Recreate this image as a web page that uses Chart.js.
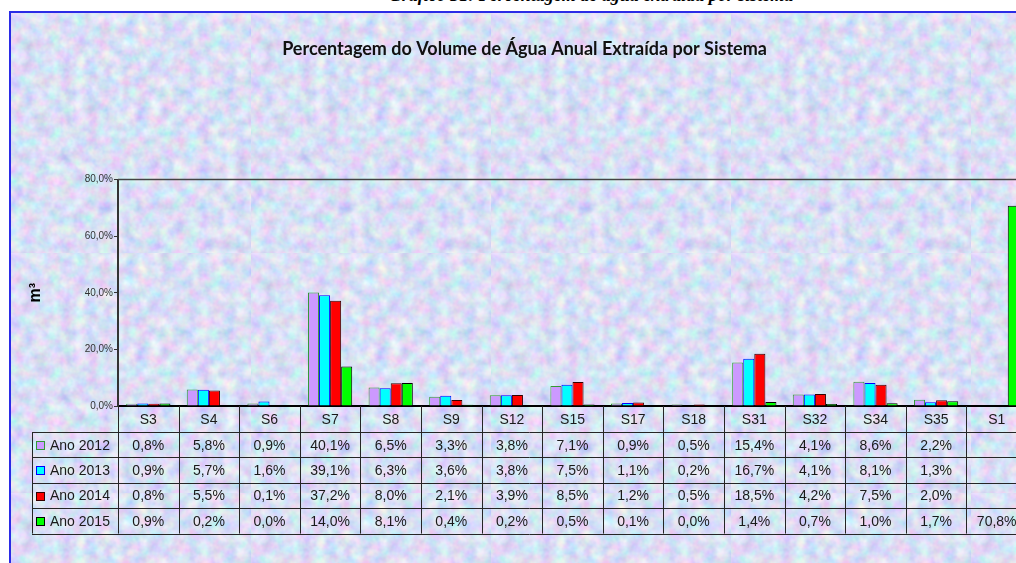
<!DOCTYPE html>
<html>
<head>
<meta charset="utf-8">
<script src="https://cdn.jsdelivr.net/npm/chart.js@4.4.1/dist/chart.umd.min.js"></script>
<style>
body{margin:0;width:1016px;height:563px;overflow:hidden;background:#fff;position:relative}
#cap{position:absolute;left:0;width:1182px;top:-14px;text-align:center;font:italic bold 18px "Liberation Serif";line-height:18px;white-space:nowrap;color:#000}
#frame{position:absolute;left:9px;top:11px;width:1100px;height:600px;border-top:2px solid #2b2be6;border-left:2px solid #2b2be6;
background-color:#c8d2f2;
background-image:url("data:image/svg+xml;utf8,<svg xmlns='http://www.w3.org/2000/svg' width='240' height='240'><filter id='n'><feTurbulence type='fractalNoise' baseFrequency='0.08' numOctaves='3' seed='7' stitchTiles='stitch'/><feColorMatrix values='0.7 0 0 0 0.35  0 0.6 0 0 0.44  0 0 0.3 0 0.76  0 0 0 0 1'/></filter><rect width='240' height='240' filter='url(%23n)'/></svg>")}
#c{position:absolute;left:0;top:0}
</style>
</head>
<body>
<div id="cap">Gráfico 31: Percentagem de água extraída por sistema</div>
<div id="frame"></div>
<canvas id="c" width="1040" height="563"></canvas>
<script>
var categories = ['S3','S4','S6','S7','S8','S9','S12','S15','S17','S18','S31','S32','S34','S35','S1'];
var seriesNames = ['Ano 2012','Ano 2013','Ano 2014','Ano 2015'];
var ano2012 = [0.8,5.8,0.9,40.1,6.5,3.3,3.8,7.1,0.9,0.5,15.4,4.1,8.6,2.2,null];
var ano2013 = [0.9,5.7,1.6,39.1,6.3,3.6,3.8,7.5,1.1,0.2,16.7,4.1,8.1,1.3,null];
var ano2014 = [0.8,5.5,0.1,37.2,8.0,2.1,3.9,8.5,1.2,0.5,18.5,4.2,7.5,2.0,null];
var ano2015 = [0.9,0.2,0.0,14.0,8.1,0.4,0.2,0.5,0.1,0.0,1.4,0.7,1.0,1.7,70.8];
var yTicks = [0,20,40,60,80];

var fills = ['#cc99ff','#00ffff','#ff0000','#00ff00'];
var borders = ['#339933','#0000ff','#330000','#000000'];
var allSeries = [ano2012,ano2013,ano2014,ano2015];

function pct(v){
	return v.toFixed(1).replace('.',',')+'%';
}

// data table under the plot + plot frame
var tablePlugin = {
	id:'dataTable',
	afterDraw:function(chart){
		var ctx = chart.ctx;
		var area = chart.chartArea;
		var xs = chart.scales.x;
		var colW = (area.right-area.left)/categories.length;
		var top = area.bottom;
		var headH = 26, rowH = 25.4;
		var legLeft = 32;
		var bottom = top+headH+rowH*4;
		ctx.save();
		// plot frame top/right
		ctx.strokeStyle = '#444';
		ctx.lineWidth = 1.5;
		ctx.beginPath();
		ctx.moveTo(area.left,area.top);
		ctx.lineTo(area.right,area.top);
		ctx.lineTo(area.right,area.bottom);
		ctx.stroke();

		ctx.strokeStyle = '#262626';
		ctx.lineWidth = 1;
		ctx.beginPath();
		for(var i=0;i<=categories.length;i++){
			var x = Math.round(area.left+i*colW)+0.5;
			ctx.moveTo(x,top);
			ctx.lineTo(x,bottom);
		}
		ctx.moveTo(legLeft+0.5,top+headH);
		ctx.lineTo(legLeft+0.5,bottom);
		for(var r=0;r<=4;r++){
			var y = Math.round(top+headH+r*rowH)+0.5;
			ctx.moveTo(legLeft,y);
			ctx.lineTo(area.right,y);
		}
		ctx.stroke();

		ctx.fillStyle = '#1a1a1a';
		ctx.font = '14px "Liberation Sans", Arial, sans-serif';
		ctx.textAlign = 'center';
		ctx.textBaseline = 'middle';
		for(var c=0;c<categories.length;c++){
			var cx = xs.getPixelForValue(c);
			ctx.fillText(categories[c],cx,top+headH/2+1);
			for(var s=0;s<allSeries.length;s++){
				var v = allSeries[s][c];
				if(v!==null) ctx.fillText(pct(v),cx,top+headH+rowH*(s+0.5)+1);
			}
		}
		ctx.textAlign = 'left';
		for(var s2=0;s2<seriesNames.length;s2++){
			var yc = top+headH+rowH*(s2+0.5);
			ctx.fillStyle = fills[s2];
			ctx.fillRect(36,Math.round(yc-4),9,9);
			ctx.strokeStyle = borders[s2];
			ctx.strokeRect(36.5,Math.round(yc-4)+0.5,8,8);
			ctx.fillStyle = '#1a1a1a';
			ctx.fillText(seriesNames[s2],50,yc+1);
		}
		ctx.restore();
	}
};

var datasets = [];
for(var i=0;i<seriesNames.length;i++){
	datasets.push({
		label:seriesNames[i],
		data:allSeries[i],
		backgroundColor:fills[i],
		borderColor:borders[i],
		borderWidth:1,
		barPercentage:1,
		categoryPercentage:0.73
	});
}

var chart = new Chart(document.getElementById('c'),{
	type:'bar',
	data:{labels:categories,datasets:datasets},
	options:{
		responsive:false,
		animation:false,
		layout:{padding:{left:22,right:13,top:0,bottom:157}},
		plugins:{
			legend:{display:false},
			tooltip:{enabled:false},
			title:{
				display:true,
				text:'Percentagem do Volume de Água Anual Extraída por Sistema',
				color:'#111',
				font:{family:'Lato',size:18,weight:'bold'},
				padding:{top:38,bottom:120}
			}
		},
		scales:{
			x:{
				ticks:{display:false},
				grid:{display:false,drawTicks:false},
				border:{display:true,color:'#000',width:2}
			},
			y:{
				min:0,max:80,
				afterBuildTicks:function(s){ s.ticks = yTicks.map(function(v){return {value:v};}); },
				afterFit:function(s){ s.width = 96; },
				ticks:{
					color:'#333',
					padding:1,
					font:{family:'Liberation Sans',size:10},
					callback:function(v){ return pct(v); }
				},
				grid:{drawOnChartArea:false,tickLength:4,color:'#333'},
				border:{display:true,color:'#333',width:2},
				title:{display:true,text:'m³',color:'#000',font:{family:'Liberation Sans',size:16,weight:'bold'}}
			}
		}
	},
	plugins:[tablePlugin]
});
</script>
</body>
</html>
